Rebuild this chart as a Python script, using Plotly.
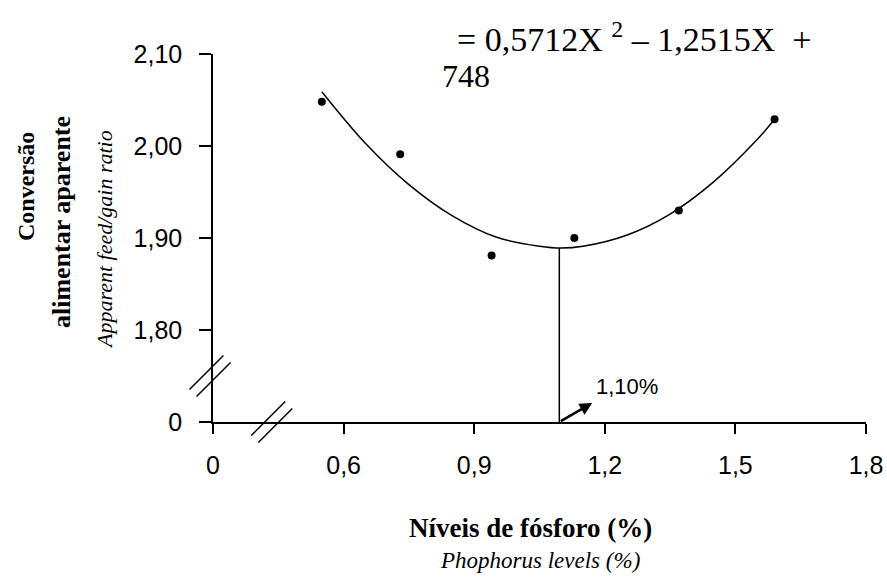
import plotly.graph_objects as go

# ---- data ----
levels = [0.55, 0.73, 0.94, 1.13, 1.37, 1.59]          # phosphorus levels (%)
feed_gain = [2.048, 1.991, 1.881, 1.900, 1.930, 2.029]  # apparent feed/gain ratio

# fitted curve
curve_x = [0.55, 0.65, 0.75, 0.85, 0.95, 1.05, 1.10, 1.15, 1.25, 1.35, 1.45, 1.55, 1.59]
curve_y = [2.059, 2.003, 1.958, 1.924, 1.901, 1.891, 1.889, 1.891, 1.903, 1.926, 1.961, 2.007, 2.029]

x_min_level = 1.0955     # level at minimum
y_min_value = 1.889

x_tickvals = [0.3, 0.6, 0.9, 1.2, 1.5, 1.8]
x_ticktext = ["0", "0,6", "0,9", "1,2", "1,5", "1,8"]
y_tickvals = [1.7, 1.8, 1.9, 2.0, 2.1]
y_ticktext = ["0", "1,80", "1,90", "2,00", "2,10"]

X_RANGE = [0.3, 1.8]
Y_RANGE = [1.7, 2.1]
X_BREAK = 0.435
Y_BREAK = 1.75

W, H = 887, 579
# plot area in window pixels: x 213..866, y 54..422
ML, MT = 213, 54
MR = W - 866
MB = H - 422
PW, PH = W - ML - MR, H - MT - MB

TICK_FONT = dict(family="Liberation Sans, Arial, sans-serif", size=25, color="black")
SERIF = "Liberation Serif, Times New Roman, serif"

fig = go.Figure()
fig.add_trace(go.Scatter(x=curve_x, y=curve_y, mode="lines", line=dict(color="black", width=1.5, shape="spline"),
                         hoverinfo="skip", showlegend=False))
fig.add_trace(go.Scatter(x=levels, y=feed_gain, mode="markers", marker=dict(color="black", size=8),
                         showlegend=False))
fig.add_trace(go.Scatter(x=[x_min_level, x_min_level], y=[Y_RANGE[0], y_min_value], mode="lines",
                         line=dict(color="black", width=1.5), hoverinfo="skip", showlegend=False))


def to_paper(xd, yd):
    return ((xd - X_RANGE[0]) / (X_RANGE[1] - X_RANGE[0]),
            (yd - Y_RANGE[0]) / (Y_RANGE[1] - Y_RANGE[0]))


def slash_pair(xd, yd, dxpx=0, half=24, gap=5):
    px, py = to_paper(xd, yd)
    px += dxpx / PW
    out = []
    h = half / 1.414
    for k in (-1, 1):
        o = k * gap / 1.414
        out.append(dict(type="line", xref="paper", yref="paper",
                        x0=px + (o - h) / PW, y0=py - (o + h) / PH,
                        x1=px + (o + h) / PW, y1=py - (o - h) / PH,
                        line=dict(color="black", width=1.5), layer="above"))
    return out


shapes = slash_pair(X_RANGE[0], Y_BREAK, dxpx=-3) + slash_pair(X_BREAK, Y_RANGE[0])


def px_ann(text, xpx, ypx, size, bold=False, italic=False, angle=0, xanchor="center", family=SERIF):
    t = text
    if bold:
        t = "<b>" + t + "</b>"
    if italic:
        t = "<i>" + t + "</i>"
    return dict(x=(xpx - ML) / PW, y=(H - MB - ypx) / PH, xref="paper", yref="paper",
                text=t, showarrow=False, xanchor=xanchor, yanchor="middle", textangle=angle,
                font=dict(family=family, size=size, color="black"))


annotations = [
    dict(x=1.171, y=1.7207, ax=x_min_level, ay=Y_RANGE[0], xref="x", yref="y", axref="x", ayref="y",
         text="", showarrow=True, arrowhead=2, arrowsize=1, arrowwidth=2.5, arrowcolor="black"),
    px_ann("1,10%", 627, 386, 22, family="Liberation Sans, Arial, sans-serif"),
    px_ann("= 0,5712X <sup>2</sup> – 1,2515X &nbsp;+", 455, 37, 34, xanchor="left"),
    px_ann("748", 440, 76, 32, xanchor="left"),
    px_ann("Conversão", 26, 187, 24, bold=True, angle=-90),
    px_ann("alimentar aparente", 61, 222, 26, bold=True, angle=-90),
    px_ann("Apparent feed/gain ratio", 104, 240, 22, italic=True, angle=-90),
    px_ann("Níveis de fósforo (%)", 530, 528, 27, bold=True),
    px_ann("Phophorus levels (%)", 540, 560, 23, italic=True),
]

fig.update_layout(
    width=W, height=H, margin=dict(l=ML, r=MR, t=MT, b=MB, autoexpand=False),
    paper_bgcolor="white", plot_bgcolor="white",
    shapes=shapes, annotations=annotations, showlegend=False,
    xaxis=dict(range=X_RANGE, tickvals=x_tickvals, ticktext=x_ticktext, showgrid=False, zeroline=False,
               showline=True, linecolor="black", linewidth=1.5, ticks="outside", ticklen=10, tickwidth=1.5,
               tickcolor="black", tickfont=TICK_FONT, ticklabelstandoff=10),
    yaxis=dict(range=Y_RANGE, tickvals=y_tickvals, ticktext=y_ticktext, showgrid=False, zeroline=False,
               showline=True, linecolor="black", linewidth=1.5, ticks="outside", ticklen=12, tickwidth=1.5,
               tickcolor="black", tickfont=TICK_FONT, ticklabelstandoff=12),
)

# remove the browser's default page margin so the figure sits at the window origin
fig.write_html("out.html", config={"displayModeBar": False},
               post_script="document.body.style.margin='0';document.body.style.overflow='hidden';")
